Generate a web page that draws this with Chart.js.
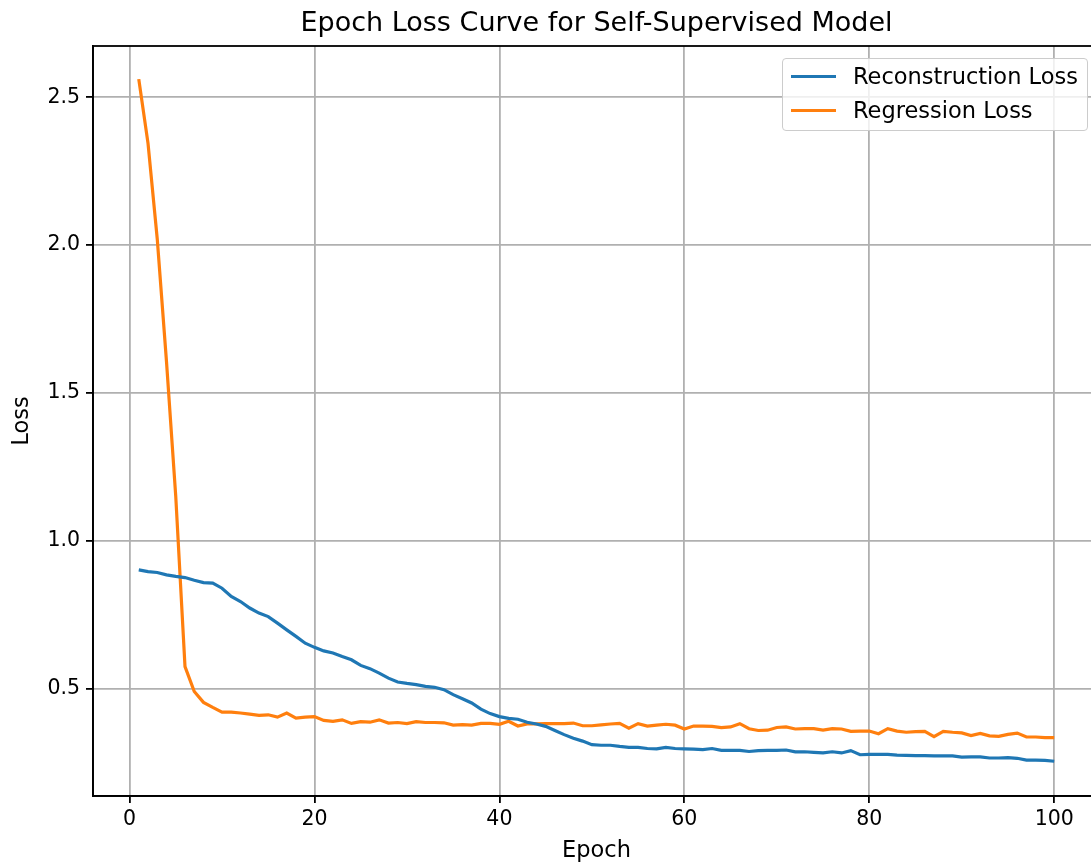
<!DOCTYPE html>
<html>
<head>
<meta charset="utf-8">
<script src="https://cdn.jsdelivr.net/npm/chart.js@4/dist/chart.umd.min.js"></script>
<style>
  html, body { margin: 0; padding: 0; background: #fff; overflow: hidden; }
  #wrap { position: relative; width: 1100px; height: 867px; }
  #legend {
    position: absolute; left: 782px; top: 58px; width: 304px; height: 71px;
    border: 1px solid #cccccc; border-radius: 4px; background: rgba(255,255,255,0.8);
    font-family: 'DejaVu Sans', sans-serif; font-size: 22.5px; color: #000;
  }
  #legend .row { display: flex; align-items: center; height: 34px; }
  #legend .handle { width: 45px; height: 3px; margin-left: 8px; }
  #legend .label { margin-left: 17px; white-space: nowrap; }
</style>
</head>
<body>
<div id="wrap">
  <canvas id="chart"></canvas>
  <div id="legend"></div>
</div>
<script>
// --- DATA ---
const epochs = [
  1, 2, 3, 4, 5, 6, 7, 8, 9, 10, 11, 12, 13, 14, 15, 16, 17, 18, 19, 20,
  21, 22, 23, 24, 25, 26, 27, 28, 29, 30, 31, 32, 33, 34, 35, 36, 37, 38, 39, 40,
  41, 42, 43, 44, 45, 46, 47, 48, 49, 50, 51, 52, 53, 54, 55, 56, 57, 58, 59, 60,
  61, 62, 63, 64, 65, 66, 67, 68, 69, 70, 71, 72, 73, 74, 75, 76, 77, 78, 79, 80,
  81, 82, 83, 84, 85, 86, 87, 88, 89, 90, 91, 92, 93, 94, 95, 96, 97, 98, 99, 100
];

const reconstructionLoss = [
  0.902, 0.896, 0.893, 0.885, 0.880, 0.876, 0.867, 0.859, 0.857, 0.840,
  0.812, 0.795, 0.773, 0.756, 0.744, 0.722, 0.699, 0.677, 0.654, 0.640,
  0.628, 0.621, 0.609, 0.598, 0.579, 0.568, 0.553, 0.536, 0.523, 0.518,
  0.514, 0.508, 0.505, 0.497, 0.480, 0.466, 0.452, 0.431, 0.416, 0.406,
  0.400, 0.397, 0.387, 0.381, 0.373, 0.359, 0.345, 0.333, 0.323, 0.311,
  0.309, 0.309, 0.305, 0.302, 0.302, 0.298, 0.297, 0.302, 0.298, 0.297,
  0.296, 0.294, 0.298, 0.292, 0.292, 0.292, 0.288, 0.291, 0.292, 0.292,
  0.293, 0.287, 0.287, 0.285, 0.283, 0.287, 0.283, 0.291, 0.277, 0.278,
  0.278, 0.278, 0.276, 0.275, 0.274, 0.274, 0.273, 0.273, 0.273, 0.269,
  0.270, 0.270, 0.266, 0.266, 0.267, 0.265, 0.259, 0.259, 0.258, 0.255
];

const regressionLoss = [
  2.561, 2.344, 2.020, 1.605, 1.150, 0.575, 0.491, 0.454, 0.437, 0.421,
  0.421, 0.418, 0.414, 0.410, 0.412, 0.404, 0.418, 0.401, 0.404, 0.406,
  0.393, 0.390, 0.395, 0.383, 0.389, 0.387, 0.395, 0.384, 0.386, 0.382,
  0.389, 0.386, 0.386, 0.385, 0.377, 0.379, 0.377, 0.383, 0.383, 0.380,
  0.390, 0.374, 0.381, 0.381, 0.382, 0.382, 0.382, 0.384, 0.375, 0.375,
  0.378, 0.381, 0.383, 0.367, 0.382, 0.374, 0.377, 0.380, 0.377, 0.364,
  0.374, 0.374, 0.373, 0.369, 0.371, 0.382, 0.365, 0.359, 0.360, 0.369,
  0.371, 0.364, 0.365, 0.365, 0.360, 0.365, 0.364, 0.356, 0.357, 0.357,
  0.348, 0.365, 0.357, 0.353, 0.355, 0.356, 0.338, 0.356, 0.353, 0.351,
  0.342, 0.349, 0.341, 0.339, 0.346, 0.350, 0.337, 0.337, 0.335, 0.335
];

const xTicks = [0, 20, 40, 60, 80, 100];
const yTicks = [0.5, 1.0, 1.5, 2.0, 2.5];

// --- STYLE ---
const blue = '#1f77b4';
const orange = '#ff7f0e';
const gridColor = '#b0b0b0';
const fontFamily = "'DejaVu Sans', sans-serif";

Chart.defaults.font.family = fontFamily;
Chart.defaults.color = '#000';

// Draws the top/right spines like a full matplotlib frame
const framePlugin = {
  id: 'frame',
  afterDraw(chart) {
    const { ctx, chartArea: a } = chart;
    ctx.save();
    ctx.strokeStyle = '#000';
    ctx.lineWidth = 1.8;
    ctx.strokeRect(a.left, a.top, a.right - a.left, a.bottom - a.top);
    ctx.restore();
  }
};

const toPoints = (values) => epochs.map((e, i) => ({ x: e, y: values[i] }));

const chart = new Chart(document.getElementById('chart').getContext('2d'), {
  type: 'line',
  data: {
    datasets: [
      {
        label: 'Reconstruction Loss',
        data: toPoints(reconstructionLoss),
        borderColor: blue,
        backgroundColor: blue,
        borderWidth: 3.2,
        pointRadius: 0,
        tension: 0,
      },
      {
        label: 'Regression Loss',
        data: toPoints(regressionLoss),
        borderColor: orange,
        backgroundColor: orange,
        borderWidth: 3.2,
        pointRadius: 0,
        tension: 0,
      },
    ],
  },
  options: {
    responsive: true,
    maintainAspectRatio: false,
    animation: false,
    layout: { padding: 0 },
    plugins: {
      legend: { display: false },
      tooltip: { enabled: false },
      title: {
        display: true,
        fullSize: false, // centre over the plot area, like matplotlib
        text: 'Epoch Loss Curve for Self-Supervised Model',
        font: { size: 27, weight: 'normal', lineHeight: 1.2 },
        padding: { top: 8, bottom: 5.6 },
        color: '#000',
      },
    },
    scales: {
      x: {
        type: 'linear',
        min: -3.95,
        max: 104.95,
        afterBuildTicks: (scale) => { scale.ticks = xTicks.map(v => ({ value: v })); },
        afterFit: (scale) => { scale.height = 71; },
        ticks: {
          font: { size: 20.5 },
          padding: 4,
          maxRotation: 0,
          callback: (v) => String(v),
        },
        grid: { color: gridColor, lineWidth: 1.8, tickColor: '#000', tickLength: 7, tickWidth: 1.8 },
        border: { color: '#000', width: 1.8 },
        title: {
          display: true,
          text: 'Epoch',
          font: { size: 22.5, lineHeight: 1.2 },
          padding: { top: 0, bottom: 2.5 },
        },
      },
      y: {
        type: 'linear',
        min: 0.1375,
        max: 2.673,
        afterBuildTicks: (scale) => { scale.ticks = yTicks.map(v => ({ value: v })); },
        afterFit: (scale) => { scale.width = 93; },
        ticks: {
          font: { size: 20.5 },
          padding: 6,
          callback: (v) => v.toFixed(1),
        },
        grid: { color: gridColor, lineWidth: 1.8, tickColor: '#000', tickLength: 7, tickWidth: 1.8 },
        border: { color: '#000', width: 1.8 },
        title: {
          display: true,
          text: 'Loss',
          font: { size: 22.5, lineHeight: 1.2 },
          padding: { top: 9, bottom: 0 },
        },
      },
    },
  },
  plugins: [framePlugin],
});

// --- HTML legend built from the datasets ---
const legendEl = document.getElementById('legend');
chart.data.datasets.forEach(ds => {
  const row = document.createElement('div');
  row.className = 'row';
  const handle = document.createElement('span');
  handle.className = 'handle';
  handle.style.background = ds.borderColor;
  const label = document.createElement('span');
  label.className = 'label';
  label.textContent = ds.label;
  row.appendChild(handle);
  row.appendChild(label);
  legendEl.appendChild(row);
});
</script>
</body>
</html>
